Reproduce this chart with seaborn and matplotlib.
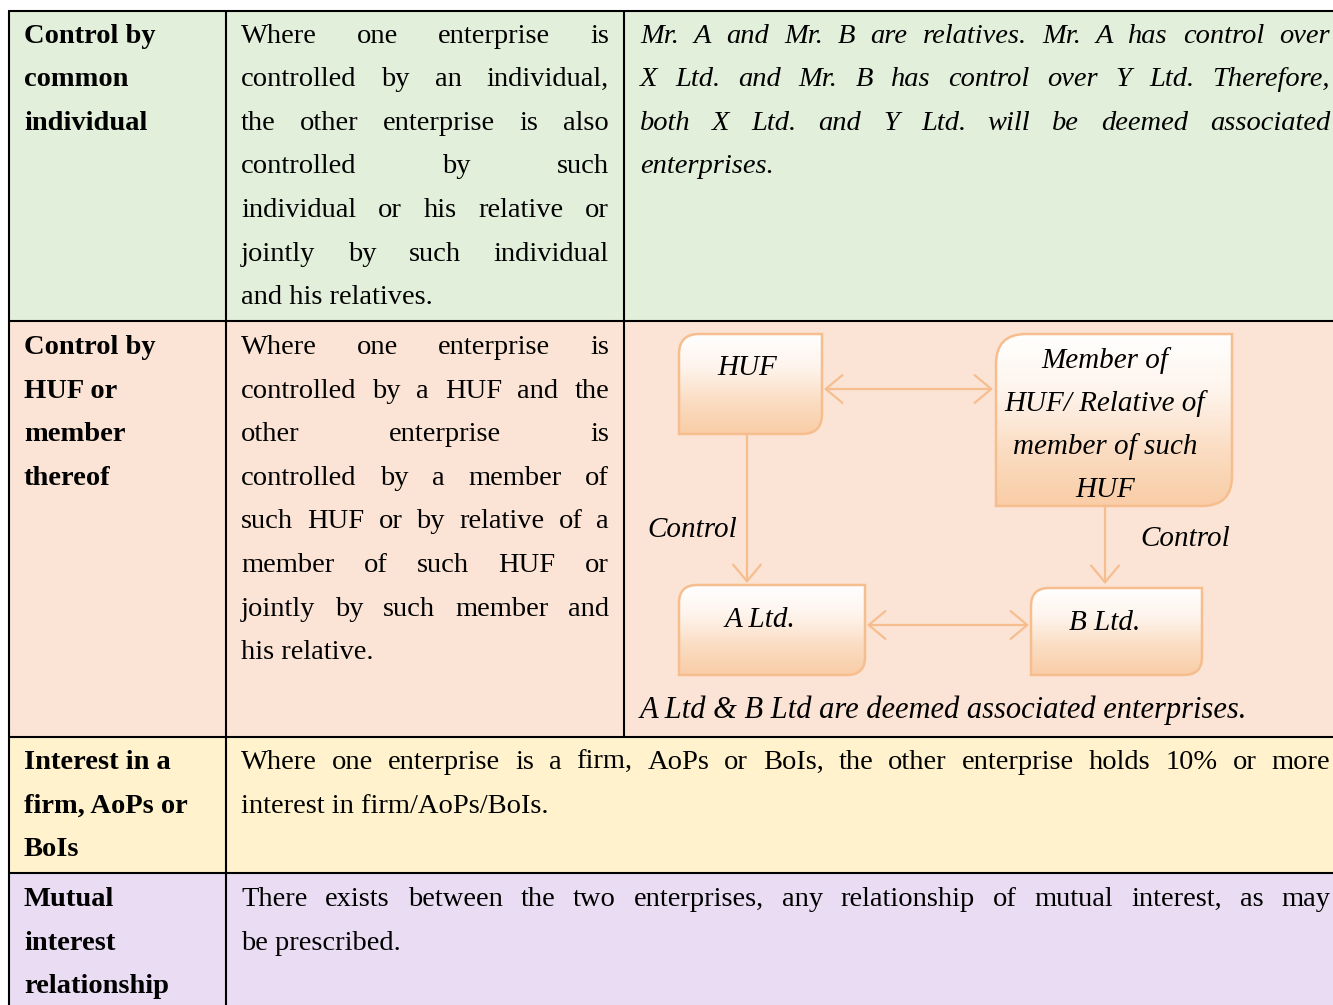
import numpy as np
import matplotlib
matplotlib.use("Agg")
import matplotlib.pyplot as plt
import seaborn as sns
from matplotlib.path import Path
from matplotlib.patches import PathPatch, FancyArrowPatch, Rectangle
from matplotlib.colors import LinearSegmentedColormap

sns.set_style("white")
plt.rcParams['font.family'] = ['Liberation Serif', 'DejaVu Serif']
plt.rcParams['text.color'] = 'black'

# table content
headers = [["Control by", "common", "individual"],
           ["Control by", "HUF or", "member", "thereof"],
           ["Interest in a", "firm, AoPs or", "BoIs"],
           ["Mutual", "interest", "relationship"]]

desc_common = ["Where one enterprise is", "controlled by an individual,",
               "the other enterprise is also", "controlled by such",
               "individual or his relative or", "jointly by such individual",
               "and his relatives."]
desc_huf = ["Where one enterprise is", "controlled by a HUF and the",
            "other enterprise is", "controlled by a member of",
            "such HUF or by relative of a", "member of such HUF or",
            "jointly by such member and", "his relative."]
example_common = ["Mr. A and Mr. B are relatives. Mr. A has control over",
                  "X Ltd. and Mr. B has control over Y Ltd. Therefore,",
                  "both X Ltd. and Y Ltd. will be deemed associated",
                  "enterprises."]
desc_firm = ["Where one enterprise is a firm, AoPs or BoIs, the other enterprise holds 10% or more",
             "interest in firm/AoPs/BoIs."]
desc_mutual = ["There exists between the two enterprises, any relationship of mutual interest, as may",
               "be prescribed."]

# diagram content
box_labels = [["HUF"], ["Member of", "HUF/ Relative of", "member of such", "HUF"],
              ["A Ltd."], ["B Ltd."]]
edge_label = "Control"
caption = "A Ltd & B Ltd are deemed associated enterprises."

row_colors = ['#E2EFDA', '#FBE4D5', '#FFF2CC', '#EADDF3']

W, H = 1333, 1005
fig = plt.figure(figsize=(W / 100, H / 100), dpi=100)
ax = fig.add_axes([0, 0, 1, 1])
ax.set_xlim(0, W)
ax.set_ylim(H, 0)
ax.axis('off')
renderer = fig.canvas.get_renderer()

row_y = [11, 321, 737, 873, H + 5]
for i, c in enumerate(row_colors):
    ax.add_patch(Rectangle((9, row_y[i]), W, row_y[i + 1] - row_y[i], color=c, lw=0, zorder=0))

lk = dict(color='black', lw=1.5, zorder=5)
for y in row_y[:4]:
    ax.plot([9, W], [y, y], **lk)
ax.plot([9, 9], [11, H], **lk)
ax.plot([226, 226], [11, H], **lk)
ax.plot([624, 624], [11, 737], **lk)

FS = 20.5
LH = 43.6


def put_line(s, x0, x1, y, justify, **kw):
    words = s.split()
    if not justify or len(words) < 2:
        ax.text(x0, y, s, va='baseline', **kw)
        return
    objs = [ax.text(x0, y, w, va='baseline', **kw) for w in words]
    widths = [o.get_window_extent(renderer).width for o in objs]
    gap = (x1 - x0 - sum(widths)) / (len(words) - 1)
    x = x0
    for o, w in zip(objs, widths):
        o.set_x(x)
        x += w + gap


def put_par(lines, x0, x1, y0, justify_all=True, **kw):
    for i, s in enumerate(lines):
        last = i == len(lines) - 1
        put_line(s, x0, x1, y0 + i * LH, justify_all and not last, **kw)


base = [42.5, 354, 769, 906]
for r, hl in enumerate(headers):
    for i, s in enumerate(hl):
        ax.text(24, base[r] + i * LH, s, va='baseline', fontsize=FS, fontweight='bold')

put_par(desc_common, 241, 609, base[0], fontsize=FS)
put_par(desc_huf, 241, 609, base[1], fontsize=FS)
put_par(example_common, 640, 1330, base[0], fontsize=FS, style='italic')
put_par(desc_firm, 241, 1330, base[2], fontsize=FS)
put_par(desc_mutual, 241, 1330, base[3], fontsize=FS)

# diagram
orange = '#F6BE8E'
cmap = LinearSegmentedColormap.from_list('peach', ['#FFFFFF', '#FEF4EC', '#FBDDC3', '#F9CDA6'])


def box(x0, y0, x1, y1, r):
    verts = [(x0 + r, y0), (x1, y0), (x1, y1 - r), (x1, y1), (x1 - r, y1),
             (x0, y1), (x0, y0 + r), (x0, y0), (x0 + r, y0), (x0 + r, y0)]
    codes = [Path.MOVETO, Path.LINETO, Path.LINETO, Path.CURVE3, Path.CURVE3,
             Path.LINETO, Path.LINETO, Path.CURVE3, Path.CURVE3, Path.CLOSEPOLY]
    p = PathPatch(Path(verts, codes), facecolor='none', edgecolor=orange, lw=1.8, zorder=3)
    ax.add_patch(p)
    g = np.linspace(0, 1, 256).reshape(-1, 1)
    im = ax.imshow(g, extent=(x0, x1, y1, y0), origin='upper', cmap=cmap,
                   aspect='auto', zorder=2)
    im.set_clip_path(p)


boxes = [(679, 334, 822, 434, 20), (996, 334, 1232, 506, 30),
         (679, 585, 865, 675, 18), (1031, 588, 1202, 675, 18)]
for b in boxes:
    box(*b)
ax.set_xlim(0, W)
ax.set_ylim(H, 0)

DFS = 21
label_pos = [(747, [375]), (1105, [368, 411, 454, 497]), (760, [627]), (1105, [630])]
for lbls, (cx, ys) in zip(box_labels, label_pos):
    for s, y in zip(lbls, ys):
        ax.text(cx, y, s, ha='center', va='baseline', fontsize=DFS, style='italic', zorder=4)

ax.text(647, 537, edge_label, va='baseline', fontsize=DFS, style='italic')
ax.text(1140, 546, edge_label, va='baseline', fontsize=DFS, style='italic')
ax.text(640, 718, caption, va='baseline', fontsize=22, style='italic')

ak = dict(color=orange, lw=1.6, mutation_scale=20, shrinkA=0, shrinkB=0, zorder=4)
ax.add_patch(FancyArrowPatch((824, 389), (993, 389), arrowstyle='<->,head_length=0.6,head_width=0.5', **ak))
ax.add_patch(FancyArrowPatch((867, 625), (1029, 625), arrowstyle='<->,head_length=0.6,head_width=0.5', **ak))
ax.add_patch(FancyArrowPatch((747, 435), (747, 583), arrowstyle='->,head_length=0.6,head_width=0.5', **ak))
ax.add_patch(FancyArrowPatch((1105, 507), (1105, 584), arrowstyle='->,head_length=0.6,head_width=0.5', **ak))

fig.savefig('out.png', dpi=100)
